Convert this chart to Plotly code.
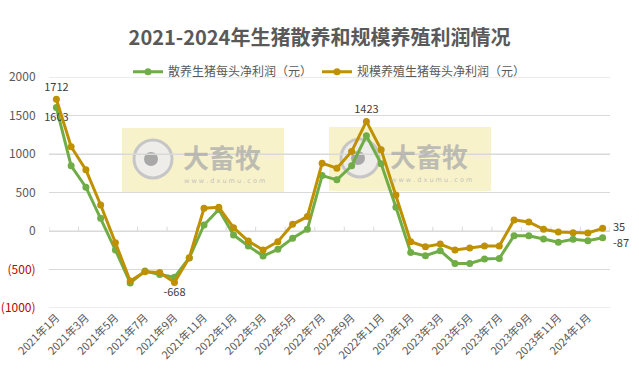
import plotly.graph_objects as go

# ---------------- data ----------------
months = [f"{y}年{m}月" for y in (2021, 2022, 2023) for m in range(1, 13)] + ["2024年1月", "2024年2月"]
free_range = [1603, 846, 569, 165, -247, -675, -521, -564, -600, -350,
              78, 280, -52, -195, -325, -238, -95, 22, 720, 664,
              846, 1237, 872, 308, -278, -321, -256, -421, -421, -365,
              -356, -61, -61, -104, -147, -108, -126, -87]
scale_farm = [1712, 1095, 794, 338, -152, -650, -530, -538, -668, -347,
              295, 308, 43, -130, -247, -139, 87, 187, 881, 816,
              1033, 1423, 1055, 469, -139, -204, -169, -247, -220, -195,
              -195, 143, 117, 22, -13, -22, -25, 35]
name_free = "散养生猪每头净利润（元）"
name_scale = "规模养殖生猪每头净利润（元）"
title = "2021-2024年生猪散养和规模养殖利润情况"
y_ticks = [-1000, -500, 0, 500, 1000, 1500, 2000]

# labelled points: index -> text position (last points labelled via annotations)
free_labels = {0: "bottom center"}
scale_labels = {0: "top center", 8: "bottom center", 21: "top center"}

GREEN = "#70ad47"
GOLD = "#bf9000"
GREY = "#595959"
GRID = "#d9d9d9"
FONT = "Noto Sans CJK SC, Noto Sans, sans-serif"
PL, PR, PT, PB = 49, 610, 77, 308

xpos = list(range(len(months)))          # category positions
tick_pos = xpos[::2]
tick_lab = months[::2]
x_lo, x_hi = -0.5, len(months) - 0.5


def labels(values, idx):
    txt = [str(v) if i in idx else "" for i, v in enumerate(values)]
    pos = [idx.get(i, "top center") for i in range(len(values))]
    return txt, pos


def px(x):
    return (x - PL) / (PR - PL)


def py(y):
    return (PB - y) / (PB - PT)


fig = go.Figure()

# watermark decoration (paper coordinates)
for wx, wy in [(122, 128), (329, 127)]:
    fig.add_shape(type="rect", xref="paper", yref="paper", layer="below",
                  x0=px(wx), x1=px(wx + 162), y0=py(wy + 64), y1=py(wy),
                  fillcolor="rgba(240,226,140,0.45)", line=dict(width=0))
    fig.add_shape(type="circle", xref="paper", yref="paper", layer="below",
                  x0=px(wx + 12), x1=px(wx + 50), y0=py(wy + 50), y1=py(wy + 12),
                  fillcolor="rgba(236,236,236,0.9)", line=dict(color="#c6c6c6", width=3))
    fig.add_shape(type="circle", xref="paper", yref="paper", layer="below",
                  x0=px(wx + 22), x1=px(wx + 36), y0=py(wy + 38), y1=py(wy + 24),
                  fillcolor="#a8a8a8", line=dict(width=0))
    fig.add_annotation(xref="paper", yref="paper", x=px(wx + 59), y=py(wy + 28),
                       xanchor="left", yanchor="middle", showarrow=False,
                       text="<b>大畜牧</b>", font=dict(size=26, color="rgba(170,170,170,0.75)", family=FONT))
    fig.add_annotation(xref="paper", yref="paper", x=px(wx + 60), y=py(wy + 53),
                       xanchor="left", yanchor="middle", showarrow=False,
                       text="w w w . d x u m u . c o m",
                       font=dict(size=6.5, color="rgba(180,180,180,0.8)", family="DejaVu Sans"))

# gridlines drawn as a (non-legend) line trace beneath the data
gx, gy = [], []
for v in y_ticks:
    gx += [x_lo, x_hi, None]
    gy += [v, v, None]
# short tick marks on the zero line between every second category
for k in range(0, len(months) + 1, 2):
    gx += [k - 0.5, k - 0.5, None]
    gy += [0, 55, None]
fig.add_trace(go.Scatter(x=gx, y=gy, mode="lines", line=dict(color=GRID, width=1),
                         hoverinfo="skip", showlegend=False, cliponaxis=False))

for name, vals, col, idx in [(name_free, free_range, GREEN, free_labels),
                             (name_scale, scale_farm, GOLD, scale_labels)]:
    txt, pos = labels(vals, idx)
    fig.add_trace(go.Scatter(
        x=xpos, y=vals, name=name, mode="lines+markers+text",
        line=dict(color=col, width=3), marker=dict(color=col, size=7),
        text=txt, textposition=pos, customdata=months,
        hovertemplate="%{customdata}: %{y}<extra></extra>",
        textfont=dict(size=11, color="#404040", family=FONT),
        cliponaxis=False,
    ))

# end-of-line labels
for vals, ysh in [(scale_farm, 2), (free_range, -4)]:
    fig.add_annotation(x=xpos[-1], y=vals[-1], text=str(vals[-1]), showarrow=False,
                       xanchor="left", yanchor="middle", xshift=8, yshift=ysh,
                       font=dict(size=11, color="#404040", family=FONT))

ticktext = [f"<span style='color:#c00000'>({-v})</span>" if v < 0 else str(v) for v in y_ticks]

fig.update_layout(
    width=639, height=379,
    margin=dict(l=PL, r=639 - PR, t=PT, b=379 - PB),
    paper_bgcolor="white", plot_bgcolor="white",
    font=dict(family=FONT, color=GREY, size=11),
    title=dict(text=f"<b>{title}</b>", x=0.5, xanchor="center", y=0.9, yanchor="middle",
               font=dict(size=20, color=GREY, family=FONT)),
    legend=dict(orientation="h", x=0.5, xanchor="center", y=0.96, yanchor="bottom",
                font=dict(size=12, color=GREY), itemwidth=30,
                bgcolor="rgba(0,0,0,0)"),
    showlegend=True,
    xaxis=dict(range=[x_lo, x_hi], automargin=False,
               tickmode="array", tickvals=tick_pos, ticktext=tick_lab,
               tickangle=-45, tickfont=dict(size=11, color=GREY),
               showgrid=False, zeroline=False, showline=False, ticks=""),
    yaxis=dict(range=[-1000, 2000], tickmode="array", tickvals=y_ticks, ticktext=ticktext,
               automargin=False,
               showgrid=True, gridcolor=GRID, gridwidth=1,
               zeroline=True, zerolinecolor=GRID, zerolinewidth=1,
               showline=False, ticks="outside", ticklen=10, tickcolor="rgba(0,0,0,0)",
               tickfont=dict(size=12, color=GREY)),
)

fig.write_html("out.html")
